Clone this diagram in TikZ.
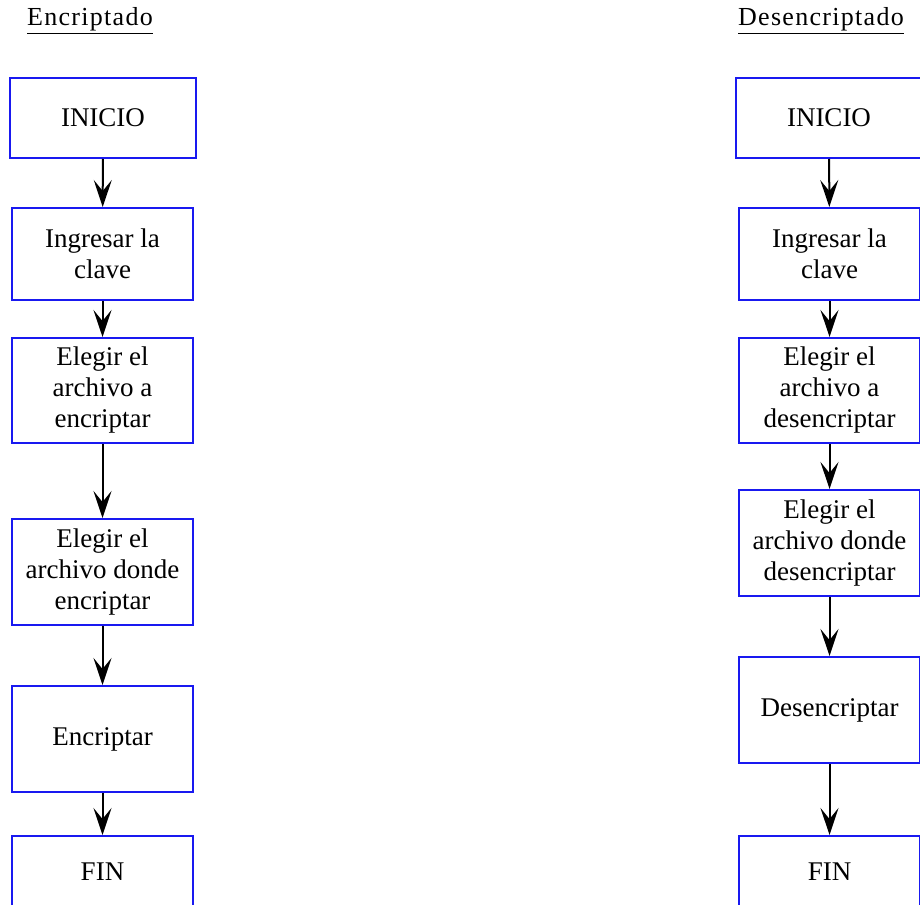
\documentclass[tikz,border=0pt]{standalone}
\usepackage{fontspec}
\setmainfont{Liberation Serif}
\newfontfamily\titlefont[LetterSpace=5]{Liberation Serif}
\usetikzlibrary{arrows.meta}
\definecolor{boxblue}{RGB}{25,25,240}
\tikzset{
  stepbox/.style={draw=boxblue, line width=2pt, fill=white, align=center,
    inner sep=0pt, font=\fontsize{27}{31}\selectfont},
  flow/.style={line width=2pt, -{Stealth[length=27pt, width=18pt, inset=11pt]}},
  heading/.style={font=\titlefont\fontsize{26}{31}\selectfont, inner sep=0pt, anchor=base}
}
\begin{document}
\begin{tikzpicture}[x=1pt, y=-1pt]
\useasboundingbox (0,0) rectangle (920,904);
\clip (0,0) rectangle (920,904);

% headings
\node[heading] (tl) at (90,26) {\underline{Encriptado}};
\node[heading] (tr) at (821,26) {\underline{Desencriptado}};

% encryption flow
\node[stepbox, minimum width=186pt, minimum height=80pt] (l1) at (103,118) {INICIO};
\node[stepbox, minimum width=181pt, minimum height=92pt] (l2) at (102.5,254) {Ingresar la\\clave};
\node[stepbox, minimum width=181pt, minimum height=105pt] (l3) at (102.5,390.5) {Elegir el\\archivo a\\encriptar};
\node[stepbox, minimum width=181pt, minimum height=106pt] (l4) at (102.5,572) {Elegir el\\archivo donde\\encriptar};
\node[stepbox, minimum width=181pt, minimum height=106pt] (l5) at (102.5,739) {Encriptar};
\node[stepbox, minimum width=181pt, minimum height=72pt] (l6) at (102.5,872) {FIN};

\draw[flow] (l1) -- (l2);
\draw[flow] (l2) -- (l3);
\draw[flow] (l3) -- (l4);
\draw[flow] (l4) -- (l5);
\draw[flow] (l5) -- (l6);

% decryption flow
\node[stepbox, minimum width=186pt, minimum height=80pt] (r1) at (829,118) {INICIO};
\node[stepbox, minimum width=181pt, minimum height=92pt] (r2) at (829.5,254) {Ingresar la\\clave};
\node[stepbox, minimum width=181pt, minimum height=105pt] (r3) at (829.5,390.5) {Elegir el\\archivo a\\desencriptar};
\node[stepbox, minimum width=181pt, minimum height=106pt] (r4) at (829.5,543) {Elegir el\\archivo donde\\desencriptar};
\node[stepbox, minimum width=181pt, minimum height=106pt] (r5) at (829.5,710) {Desencriptar};
\node[stepbox, minimum width=181pt, minimum height=72pt] (r6) at (829.5,872) {FIN};

\draw[flow] (r1) -- (r2);
\draw[flow] (r2) -- (r3);
\draw[flow] (r3) -- (r4);
\draw[flow] (r4) -- (r5);
\draw[flow] (r5) -- (r6);
\end{tikzpicture}
\end{document}
